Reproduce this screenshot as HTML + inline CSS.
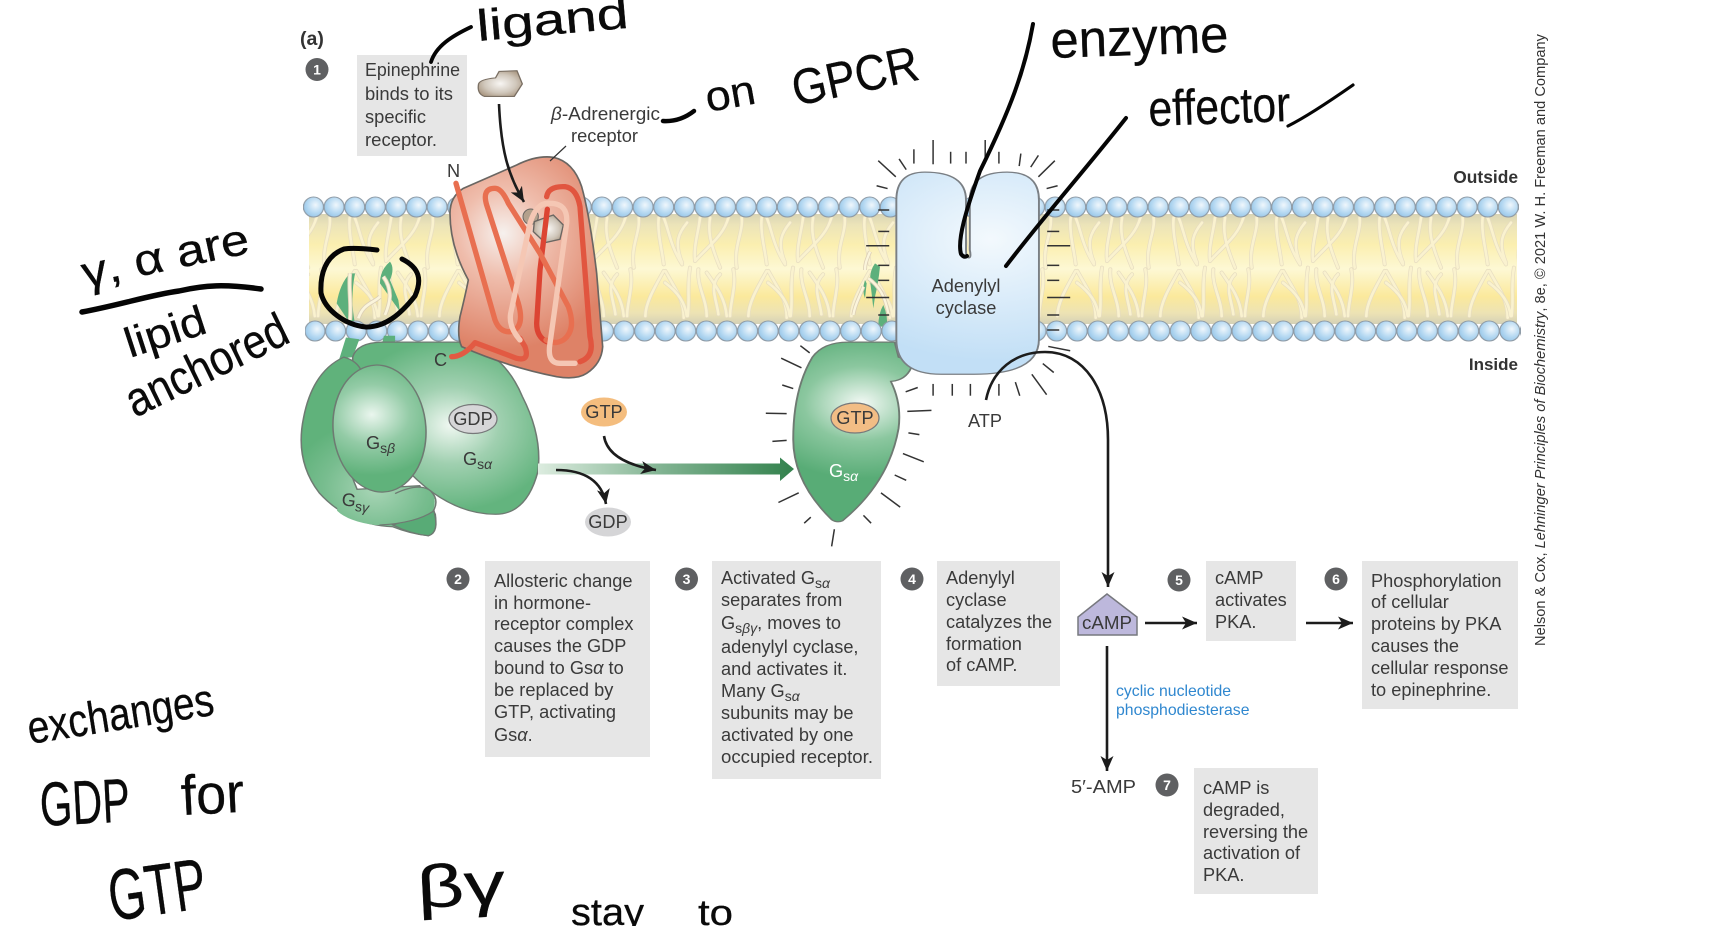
<!DOCTYPE html>
<html><head><meta charset="utf-8"><style>
html,body{margin:0;padding:0;background:#fff;width:1722px;height:926px;overflow:hidden}
svg{display:block}
text{font-family:"Liberation Sans",sans-serif}
.t{font-size:18.2px;fill:#3a3a3a}
.n{font-size:14px;font-weight:bold;fill:#fff;text-anchor:middle}
.h{fill:#0a0a0a;stroke:#0a0a0a;stroke-width:.3;stroke-linejoin:round}
.s{fill:none;stroke:#050505;stroke-linecap:round;stroke-linejoin:round}
.r line{stroke:#333;stroke-width:1.5;vector-effect:non-scaling-stroke}
.b{fill:#e6e6e6}
.c{fill:#5f6062}
.a{fill:none;stroke:#1c1c1c;stroke-width:2.6;marker-end:url(#ah)}
</style></head><body>
<svg width="1722" height="926" viewBox="0 0 1722 926" xmlns="http://www.w3.org/2000/svg">
<defs>
<marker id="ah" markerUnits="userSpaceOnUse" markerWidth="16" markerHeight="14" refX="15" refY="7" orient="auto"><path d="M0,0.5 L15,7 L0,13.5 L4,7Z" fill="#1c1c1c"/></marker>
<linearGradient id="mem" x1="0" y1="0" x2="0" y2="1">
<stop offset="0" stop-color="#d9d4b4"/><stop offset=".1" stop-color="#ece4b9"/><stop offset=".28" stop-color="#fbefb0"/><stop offset=".5" stop-color="#fdf8d4"/><stop offset=".75" stop-color="#fbe99c"/><stop offset=".9" stop-color="#ede3b4"/><stop offset="1" stop-color="#d5d1b6"/>
</linearGradient>
<radialGradient id="head" cx=".6" cy=".4" r=".65"><stop offset="0" stop-color="#f0f7fc"/><stop offset=".6" stop-color="#b6d9f2"/><stop offset="1" stop-color="#96c5e7"/></radialGradient>
<g id="heads"><circle cx="10.3" cy="11" r="10" fill="url(#head)" stroke="#8f9ba6" stroke-width="1.1"/></g>
<pattern id="hT" patternUnits="userSpaceOnUse" width="20.6" height="22" patternTransform="translate(303.2,196)"><use href="#heads"/></pattern>
<pattern id="hB" patternUnits="userSpaceOnUse" width="20.6" height="22" patternTransform="translate(304.7,320)"><use href="#heads"/></pattern>
<path id="tp" d="M105,85 C100,130 85,170 90,215 M135,85 C130,120 130,150 165,235 M190,85 C175,140 130,170 90,215 M230,85 C235,130 205,170 215,235 M290,85 C285,130 300,180 305,225 M305,85 C320,120 325,170 360,225 M375,100 C350,130 335,160 360,220 M75,235 C65,290 75,330 68,380 M100,240 C95,290 125,330 125,380 M125,250 C160,300 180,330 185,380 M165,255 C130,290 155,330 160,375 M205,240 C215,290 195,340 195,380 M305,245 C280,290 250,340 250,380 M310,245 C340,300 365,330 365,385 M0,280 C40,310 60,340 65,380" fill="none" stroke-linecap="round"/>
<g id="tt"><use href="#tp" stroke="#e6dcc0" stroke-width="12"/><use href="#tp" stroke="#faf2cf" stroke-width="8"/></g>
<pattern id="tails" patternUnits="userSpaceOnUse" width="309" height="315" patternTransform="translate(1210,216) scale(.3333)">
<g transform="translate(-90,-80)"><use href="#tt"/><use href="#tt" x="309"/><use href="#tt" x="-309"/></g>
</pattern>
<radialGradient id="rec" gradientUnits="userSpaceOnUse" cx="190" cy="250" r="350"><stop offset="0" stop-color="#f6f1ee"/><stop offset=".38" stop-color="#efbdac"/><stop offset="1" stop-color="#de8267"/></radialGradient>
<radialGradient id="lig" cx=".5" cy=".5" r=".6"><stop offset="0" stop-color="#f8f6f3"/><stop offset=".6" stop-color="#d0c7bb"/><stop offset="1" stop-color="#a8957f"/></radialGradient>
<radialGradient id="ga" gradientUnits="userSpaceOnUse" cx="1010" cy="1190" r="240"><stop offset="0" stop-color="#f0f8f2"/><stop offset=".45" stop-color="#a0d0b0"/><stop offset="1" stop-color="#63b47e"/></radialGradient>
<radialGradient id="gb" gradientUnits="userSpaceOnUse" cx="835" cy="1160" r="170"><stop offset="0" stop-color="#eaf6ee"/><stop offset=".5" stop-color="#93cba6"/><stop offset="1" stop-color="#60b27b"/></radialGradient>
<radialGradient id="gg" gradientUnits="userSpaceOnUse" cx="840" cy="1370" r="190"><stop offset="0" stop-color="#a8d5b6"/><stop offset=".6" stop-color="#78bd8f"/><stop offset="1" stop-color="#60b27b"/></radialGradient>
<radialGradient id="gs" gradientUnits="userSpaceOnUse" cx="295" cy="1130" r="210"><stop offset="0" stop-color="#f3f9f5"/><stop offset=".5" stop-color="#8bc79f"/><stop offset="1" stop-color="#58ac76"/></radialGradient>
<radialGradient id="ac" gradientUnits="userSpaceOnUse" cx="530" cy="670" r="340"><stop offset="0" stop-color="#f3f9fd"/><stop offset="1" stop-color="#c2dff6"/></radialGradient>
<linearGradient id="arrg" gradientUnits="userSpaceOnUse" x1="538" y1="0" x2="790" y2="0"><stop offset="0" stop-color="#dcecdf"/><stop offset=".5" stop-color="#7fb290"/><stop offset="1" stop-color="#35834f"/></linearGradient>
</defs>

<!-- membrane -->
<rect x="309" y="214" width="1208" height="110" fill="url(#mem)"/>
<rect x="309" y="216" width="1208" height="105" fill="url(#tails)"/>

<!-- lipid anchors left -->
<g transform="translate(300,240) scale(.3333)">
<path d="M150,100 Q120,130 110,190 Q130,220 150,250 L165,250 Q150,180 165,100Z" fill="#5db07c"/>
<path d="M270,65 Q240,90 240,130 L300,215 L295,180 L270,120 Q285,85 270,65Z" fill="#5db07c"/>
<path d="M150,100 C145,150 155,190 150,240 M250,110 C280,150 270,190 255,225 M240,170 C220,190 190,190 175,235" fill="none" stroke="#dccfb6" stroke-width="13"/>
<path d="M150,100 C145,150 155,190 150,240 M250,110 C280,150 270,190 255,225 M240,170 C220,190 190,190 175,235" fill="none" stroke="#fbf5dc" stroke-width="8"/>
</g>
<!-- lipid anchors right -->
<g transform="translate(850,250) scale(.3333)">
<path d="M75,40 Q60,60 60,90 Q65,130 70,175 L75,140 Q85,100 90,50Z M45,90 Q35,120 45,145 L50,100Z M100,165 Q85,190 85,230 L110,230 Q115,200 100,165Z" fill="#5db07c"/>
<path d="M55,85 C90,110 105,140 115,190 M60,5 C50,30 45,40 45,60 M40,110 C30,140 15,160 10,195" fill="none" stroke="#dccfb6" stroke-width="12"/>
<path d="M55,85 C90,110 105,140 115,190 M60,5 C50,30 45,40 45,60 M40,110 C30,140 15,160 10,195" fill="none" stroke="#fbf5dc" stroke-width="7"/>
</g>

<!-- heads -->
<rect x="303" y="196" width="1216" height="22" fill="url(#hT)"/>
<rect x="305" y="320" width="1216" height="22" fill="url(#hB)"/>

<!-- Leading G protein complex (zoom1 coords) -->
<g transform="scale(.44643,.35714)" stroke="#6e7a72" stroke-width="3.5">
<path d="M775,945 L805,950 L790,1000 L760,1005Z" fill="#5db07c" stroke="none"/>
<path d="M860,940 L885,940 L885,965 L855,965Z" fill="#5db07c" stroke="none"/>
<path d="M790,1000 Q800,958 860,958 L1040,958 Q1130,990 1170,1110 Q1215,1220 1205,1320 Q1180,1440 1110,1440 Q1000,1440 900,1300 L790,1100Z" fill="url(#ga)"/>
<path d="M770,1000 Q700,1040 680,1170 Q660,1290 715,1380 Q780,1470 880,1475 Q920,1495 960,1500 Q980,1490 975,1440 L940,1360 L800,1370 Q740,1200 810,1040 Q800,1010 770,1000Z" fill="url(#gg)"/>
<path d="M880,1470 Q920,1495 960,1500 Q985,1490 972,1430 Z" fill="#58ab76"/>
<ellipse cx="850" cy="1200" rx="104" ry="178" transform="rotate(-3 850 1200)" fill="url(#gb)"/>
<path d="M760,1375 Q840,1390 900,1375 Q940,1355 965,1375 Q980,1395 970,1430 Q930,1470 840,1470 Q780,1460 755,1430Z" fill="url(#gg)" stroke="none"/>
<path d="M885,1382 Q940,1350 965,1375 Q985,1400 970,1432 Q930,1465 850,1470" fill="none"/>
</g>

<!-- active Gsa (zoom2 coords) -->
<g transform="translate(700,0) scale(.54845,.35714)" stroke="#6e7a72" stroke-width="3.5">
<path d="M205,1000 Q225,958 270,958 L355,958 L362,1000 Q385,1010 385,1030 Q375,1065 348,1068 Q368,1130 362,1200 Q345,1350 260,1458 Q250,1465 240,1455 Q170,1350 170,1230 Q170,1090 205,1000Z" fill="url(#gs)"/>
</g>

<!-- Receptor -->
<g transform="translate(440,150) scale(.33333)">
<path d="M30,190 Q30,140 70,115 L230,45 Q290,15 340,22 Q400,35 425,110 Q450,200 470,370 L488,590 Q485,640 440,670 Q410,690 350,680 Q200,650 65,590 Q50,560 60,500 Q75,440 85,390 Q30,290 30,190Z" fill="url(#rec)" stroke="#6a6662" stroke-width="5"/>
<circle cx="272" cy="200" r="23" fill="#b3a08c" stroke="#6a6662" stroke-width="3"/>
<polygon points="283,215 310,205 340,195 370,225 360,268 315,278 280,245" fill="url(#lig)" stroke="#6a6662" stroke-width="4"/>
<g fill="none" stroke-linecap="round" stroke-linejoin="round" stroke-width="16">
<path d="M322,178 L300,360 L290,520 Q290,560 320,575" stroke="#dc4433"/>
<path d="M320,140 Q325,108 375,110 Q410,115 420,170 L450,560 Q465,620 420,635" stroke="#e1553f"/>
<path d="M48,100 L165,510 Q180,550 215,545 Q255,530 235,460 L140,165 Q125,115 165,115 Q185,115 205,160 L300,310 L385,470 Q410,540 370,570 Q345,585 318,570" stroke="#e86f50"/>
<path d="M35,620 Q70,620 105,578 L230,625 Q270,635 255,590 L240,565" stroke="#e25a43"/>
<path d="M240,570 Q205,530 212,490 L270,220 Q290,155 330,160 Q385,160 380,220 L330,580 Q320,640 360,640 L405,640" stroke="#f5c7b4"/>
</g>
</g>

<!-- Adenylyl cyclase -->
<g transform="translate(700,0) scale(.54845,.35714)">
<path d="M358,560 Q358,482 410,482 Q485,482 485,560 L485,700 Q485,722 490,722 Q495,722 492,700 L492,560 Q492,482 560,482 Q618,482 618,560 L618,950 Q618,1048 500,1048 L440,1048 Q358,1048 358,950Z" fill="url(#ac)" stroke="#7a7f84" stroke-width="3.5"/>
<g class="r">
<line x1="425" y1="392" x2="425" y2="460"/><line x1="390" y1="418" x2="390" y2="458"/><line x1="457" y1="425" x2="457" y2="458"/><line x1="485" y1="425" x2="485" y2="458"/><line x1="520" y1="392" x2="520" y2="458"/><line x1="545" y1="425" x2="545" y2="458"/><line x1="585" y1="430" x2="582" y2="465"/><line x1="617" y1="435" x2="603" y2="468"/><line x1="647" y1="450" x2="617" y2="495"/><line x1="325" y1="450" x2="357" y2="495"/><line x1="363" y1="445" x2="376" y2="475"/><line x1="322" y1="520" x2="342" y2="528"/><line x1="632" y1="528" x2="652" y2="520"/>
<line x1="325" y1="588" x2="345" y2="588"/><line x1="325" y1="648" x2="345" y2="648"/><line x1="303" y1="688" x2="345" y2="688"/><line x1="325" y1="743" x2="345" y2="743"/><line x1="325" y1="785" x2="345" y2="785"/><line x1="303" y1="833" x2="345" y2="833"/><line x1="325" y1="882" x2="345" y2="882"/>
<line x1="633" y1="588" x2="655" y2="588"/><line x1="633" y1="648" x2="655" y2="648"/><line x1="633" y1="688" x2="675" y2="688"/><line x1="633" y1="743" x2="655" y2="743"/><line x1="633" y1="785" x2="655" y2="785"/><line x1="633" y1="833" x2="675" y2="833"/><line x1="633" y1="882" x2="655" y2="882"/><line x1="633" y1="924" x2="655" y2="924"/><line x1="635" y1="970" x2="675" y2="982"/><line x1="625" y1="1018" x2="645" y2="1043"/><line x1="605" y1="1048" x2="632" y2="1105"/><line x1="575" y1="1070" x2="583" y2="1108"/><line x1="545" y1="1075" x2="545" y2="1108"/><line x1="425" y1="1075" x2="425" y2="1108"/><line x1="460" y1="1075" x2="460" y2="1108"/><line x1="493" y1="1075" x2="493" y2="1108"/><line x1="375" y1="1097" x2="397" y2="1085"/>
<line x1="183" y1="968" x2="200" y2="988"/><line x1="148" y1="1003" x2="185" y2="1030"/><line x1="150" y1="1078" x2="170" y2="1088"/><line x1="120" y1="1157" x2="158" y2="1158"/><line x1="132" y1="1236" x2="158" y2="1233"/><line x1="143" y1="1407" x2="180" y2="1380"/><line x1="190" y1="1465" x2="202" y2="1448"/><line x1="240" y1="1530" x2="245" y2="1482"/><line x1="298" y1="1443" x2="312" y2="1465"/><line x1="330" y1="1380" x2="365" y2="1420"/><line x1="355" y1="1330" x2="376" y2="1345"/><line x1="370" y1="1270" x2="408" y2="1293"/><line x1="380" y1="1212" x2="400" y2="1217"/><line x1="378" y1="1152" x2="422" y2="1149"/>
</g>
</g>

<!-- ligand free -->
<g transform="scale(.44643,.35714)"><path d="M1072,235 Q1075,222 1110,218 L1118,200 L1158,198 L1170,235 L1152,270 L1085,270 Q1068,262 1072,235Z" fill="url(#lig)" stroke="#7a6f63" stroke-width="3"/></g>
<!-- leader -->
<line x1="566" y1="146" x2="550" y2="161" stroke="#333" stroke-width="1.2"/>

<!-- green arrow -->
<path d="M538,463.5 H780 V457.5 L794,469 L780,481 V474.5 H538Z" fill="url(#arrg)"/>

<!-- ovals -->
<ellipse cx="473" cy="419" rx="24" ry="14.5" fill="#d6d6d8" stroke="#77787a" stroke-width="1.2"/>
<ellipse cx="604" cy="412" rx="23" ry="14.5" fill="#f4bd7e"/>
<ellipse cx="608" cy="522" rx="23" ry="14.5" fill="#d5d5d7"/>
<ellipse cx="855" cy="418" rx="24" ry="15" fill="#f2bd85" stroke="#77787a" stroke-width="1.2"/>

<!-- arrows -->
<path class="a" d="M499,104 C501,150 508,175 524,202"/>
<path class="a" d="M604,436 Q608,462 656,470"/>
<path class="a" d="M556,470 Q600,470 606,504"/>
<path class="a" d="M986,400 C992,370 1015,352 1045,352 C1085,352 1108,390 1108,440 L1108,587"/>
<path class="a" d="M1145,623 H1197"/>
<path class="a" d="M1306,623 H1353"/>
<path class="a" d="M1107,646 V771"/>

<!-- cAMP -->
<polygon points="1107,594 1078,617 1078,635 1137,635 1137,617" fill="#bdb8dc" stroke="#77787f" stroke-width="1.5"/>

<!-- Boxes -->
<rect class="b" x="357" y="55" width="110" height="101"/>
<rect class="b" x="485" y="561" width="165" height="196"/>
<rect class="b" x="712" y="561" width="169" height="218"/>
<rect class="b" x="937" y="561" width="123" height="125"/>
<rect class="b" x="1206" y="561" width="90" height="80"/>
<rect class="b" x="1362" y="561" width="156" height="148"/>
<rect class="b" x="1194" y="768" width="124" height="126"/>

<!-- Number circles -->
<circle class="c" cx="317" cy="69.5" r="11.5"/><text class="n" x="317" y="74.5">1</text>
<circle class="c" cx="458" cy="579" r="11.5"/><text class="n" x="458" y="584">2</text>
<circle class="c" cx="686.5" cy="579" r="11.5"/><text class="n" x="686.5" y="584">3</text>
<circle class="c" cx="912" cy="579" r="11.5"/><text class="n" x="912" y="584">4</text>
<circle class="c" cx="1179" cy="580" r="11.5"/><text class="n" x="1179" y="585">5</text>
<circle class="c" cx="1336" cy="579" r="11.5"/><text class="n" x="1336" y="584">6</text>
<circle class="c" cx="1167" cy="785" r="11.5"/><text class="n" x="1167" y="790">7</text>

<!-- Labels -->
<text x="300" y="45" font-size="19.5" font-weight="bold" fill="#333">(a)</text>
<g>
<text class="t" x="365" y="76" textLength="95" lengthAdjust="spacingAndGlyphs">Epinephrine</text><text class="t" x="365" y="100" textLength="88" lengthAdjust="spacingAndGlyphs">binds to its</text><text class="t" x="365" y="123" textLength="61" lengthAdjust="spacingAndGlyphs">specific</text><text class="t" x="365" y="146" textLength="72" lengthAdjust="spacingAndGlyphs">receptor.</text>
<text class="t" x="551" y="120" textLength="109" lengthAdjust="spacingAndGlyphs"><tspan font-style="italic">β</tspan>-Adrenergic</text><text class="t" x="571" y="142" textLength="67" lengthAdjust="spacingAndGlyphs">receptor</text>
<text class="t" x="447" y="177">N</text><text class="t" x="434" y="366">C</text>
<text class="t" x="473" y="425" text-anchor="middle">GDP</text><text class="t" x="604" y="418" text-anchor="middle">GTP</text><text class="t" x="608" y="528" text-anchor="middle">GDP</text><text class="t" x="855" y="424" text-anchor="middle">GTP</text>
<text class="t" x="366" y="449">G<tspan dy="4" font-size="14">s</tspan><tspan font-size="14" font-style="italic">β</tspan></text>
<text class="t" x="463" y="465">G<tspan dy="4" font-size="14">s</tspan><tspan font-size="14" font-style="italic">α</tspan></text>
<text class="t" x="341" y="505" transform="rotate(8 341 505)">G<tspan dy="4" font-size="14">s</tspan><tspan font-size="14" font-style="italic">γ</tspan></text>
<text x="829" y="477" font-size="18.2" fill="#fff">G<tspan dy="4" font-size="14">s</tspan><tspan font-size="14" font-style="italic">α</tspan></text>
<text class="t" x="966" y="292" text-anchor="middle">Adenylyl</text><text class="t" x="966" y="314" text-anchor="middle">cyclase</text>
<text class="t" x="985" y="427" text-anchor="middle">ATP</text>
<text class="t" x="1107" y="629" text-anchor="middle" textLength="50" lengthAdjust="spacingAndGlyphs">cAMP</text>
<text class="t" x="1071" y="793" textLength="65" lengthAdjust="spacingAndGlyphs">5′-AMP</text>
<text x="1116" y="696" font-size="15.8" fill="#2f87cf">cyclic nucleotide</text><text x="1116" y="715" font-size="15.8" fill="#2f87cf">phosphodiesterase</text>
<text x="1518" y="183" font-size="17.4" font-weight="bold" fill="#333" text-anchor="end">Outside</text>
<text x="1518" y="370" font-size="17" font-weight="bold" fill="#333" text-anchor="end">Inside</text>

<text class="t" x="494" y="587">Allosteric change</text><text class="t" x="494" y="609">in hormone-</text><text class="t" x="494" y="630">receptor complex</text><text class="t" x="494" y="652">causes the GDP</text><text class="t" x="494" y="674">bound to Gs<tspan font-style="italic">α</tspan> to</text><text class="t" x="494" y="696">be replaced by</text><text class="t" x="494" y="718">GTP, activating</text><text class="t" x="494" y="741">Gs<tspan font-style="italic">α</tspan>.</text>

<text class="t" x="721" y="584">Activated G<tspan dy="4" font-size="14">s</tspan><tspan font-size="14" font-style="italic">α</tspan></text><text class="t" x="721" y="606">separates from</text><text class="t" x="721" y="629">G<tspan dy="4" font-size="14">s</tspan><tspan font-size="14" font-style="italic">βγ</tspan><tspan dy="-4">, moves to</tspan></text><text class="t" x="721" y="653">adenylyl cyclase,</text><text class="t" x="721" y="675">and activates it.</text><text class="t" x="721" y="697">Many G<tspan dy="4" font-size="14">s</tspan><tspan font-size="14" font-style="italic">α</tspan></text><text class="t" x="721" y="719">subunits may be</text><text class="t" x="721" y="741">activated by one</text><text class="t" x="721" y="763" textLength="152" lengthAdjust="spacingAndGlyphs">occupied receptor.</text>

<text class="t" x="946" y="584">Adenylyl</text><text class="t" x="946" y="606">cyclase</text><text class="t" x="946" y="628">catalyzes the</text><text class="t" x="946" y="650">formation</text><text class="t" x="946" y="671">of cAMP.</text>

<text class="t" x="1215" y="584">cAMP</text><text class="t" x="1215" y="606">activates</text><text class="t" x="1215" y="628">PKA.</text>

<text class="t" x="1371" y="587">Phosphorylation</text><text class="t" x="1371" y="608">of cellular</text><text class="t" x="1371" y="630">proteins by PKA</text><text class="t" x="1371" y="652">causes the</text><text class="t" x="1371" y="674">cellular response</text><text class="t" x="1371" y="696">to epinephrine.</text>

<text class="t" x="1203" y="794">cAMP is</text><text class="t" x="1203" y="816">degraded,</text><text class="t" x="1203" y="838">reversing the</text><text class="t" x="1203" y="859">activation of</text><text class="t" x="1203" y="881">PKA.</text>
</g>
<text x="1545" y="646" transform="rotate(-90 1545 646)" font-size="15" fill="#333" textLength="612" lengthAdjust="spacingAndGlyphs">Nelson &amp; Cox, <tspan font-style="italic">Lehninger Principles of Biochemistry</tspan>, 8e, © 2021 W. H. Freeman and Company</text>

<!-- Handwritten annotations: real text plus pen strokes -->
<g class="h">
<text x="478" y="41" font-size="44" transform="rotate(-5 478 41)" textLength="152" lengthAdjust="spacingAndGlyphs">ligand</text>
<text x="708" y="112" font-size="42" transform="rotate(-10 708 112)" textLength="50" lengthAdjust="spacingAndGlyphs">on</text>
<text x="796" y="106" font-size="50" transform="rotate(-12 796 106)" textLength="128" lengthAdjust="spacingAndGlyphs">GPCR</text>
<text x="1051" y="58" font-size="52" transform="rotate(-2 1051 58)" textLength="178" lengthAdjust="spacingAndGlyphs">enzyme</text>
<text x="1149" y="126" font-size="50" transform="rotate(-2 1149 126)" textLength="142" lengthAdjust="spacingAndGlyphs">effector</text>
<text x="85" y="288" font-size="44" transform="rotate(-12 85 288)" textLength="170" lengthAdjust="spacingAndGlyphs">γ, α are</text>
<text x="130" y="358" font-size="42" transform="rotate(-18 130 358)" textLength="83" lengthAdjust="spacingAndGlyphs">lipid</text>
<text x="135" y="418" font-size="48" transform="rotate(-26 135 418)" textLength="175" lengthAdjust="spacingAndGlyphs">anchored</text>
<text x="30" y="744" font-size="46" transform="rotate(-9 30 744)" textLength="188" lengthAdjust="spacingAndGlyphs">exchanges</text>
<text x="41" y="826" font-size="62" transform="rotate(-3 41 826)" textLength="90" lengthAdjust="spacingAndGlyphs">GDP</text>
<text x="182" y="815" font-size="56" transform="rotate(-3 182 815)" textLength="63" lengthAdjust="spacingAndGlyphs">for</text>
<text x="112" y="921" font-size="72" transform="rotate(-8 112 921)" textLength="98" lengthAdjust="spacingAndGlyphs">GTP</text>
<text x="418" y="908" font-size="60" transform="rotate(-3 418 908)" textLength="88" lengthAdjust="spacingAndGlyphs">βγ</text>
<text x="571" y="925" font-size="38" textLength="73" lengthAdjust="spacingAndGlyphs">stay</text>
<text x="698" y="925" font-size="36" textLength="35" lengthAdjust="spacingAndGlyphs">to</text>
</g>
<path class="s" stroke-width="3.8" d="M431,62 C436,46 452,36 471,27"/>
<path class="s" stroke-width="4.5" d="M663,121 Q680,122 694,111"/>
<path class="s" stroke-width="4" d="M1033,24 C1025,70 1010,110 980,171 C966,210 957,240 961,254 Q964,258 967,256"/>
<path class="s" stroke-width="4" d="M1126,118 C1085,170 1045,215 1006,266"/>
<path class="s" stroke-width="3.2" d="M1288,126 Q1310,115 1353,85"/>
<path class="s" stroke-width="5.5" d="M82,312 C120,305 150,295 179,291 C205,285 225,284 261,289"/>
<path class="s" stroke-width="5" d="M377,250 C360,248 350,248 344,249 C325,256 320,275 321,293 C325,310 345,325 366,327 C385,327 400,315 415,296 C422,280 420,268 402,259"/>
</svg>
</body></html>
